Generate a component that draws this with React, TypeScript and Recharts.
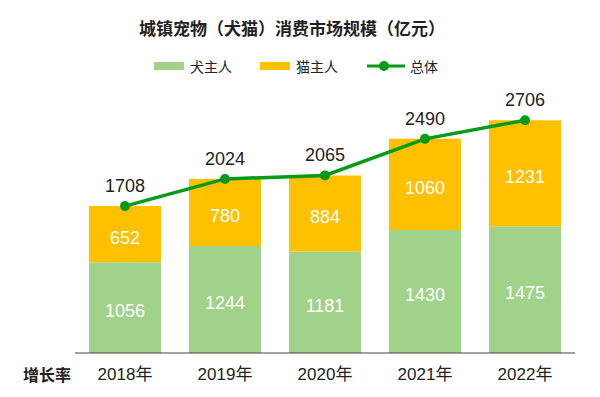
import { Bar, ComposedChart, LabelList, Line, XAxis, YAxis } from 'recharts';

const years = ['2018年', '2019年', '2020年', '2021年', '2022年'];
const dogOwners = [1056, 1244, 1181, 1430, 1475];
const catOwners = [652, 780, 884, 1060, 1231];
const totals = [1708, 2024, 2065, 2490, 2706];

const DOG = '#a0d28a';
const CAT = '#ffc000';
const TOTAL = '#079a17';
const FONT = '"Liberation Sans", "Noto Sans CJK SC", sans-serif';

const data = years.map((year, i) => ({
  year,
  dog: dogOwners[i],
  cat: catOwners[i],
  total: totals[i],
}));

// 段内数值：白色，居中略偏下，和原图一致
function SegmentLabel(props: any) {
  const { x, y, width, height, value } = props;
  return (
    <text
      x={x + width / 2}
      y={y + height / 2 + 5}
      textAnchor="middle"
      dominantBaseline="middle"
      fill="#fff"
      fontSize={18}
      fontFamily={FONT}
    >
      {value}
    </text>
  );
}

function TotalLabel(props: any) {
  const { x, y, value } = props;
  return (
    <text x={x} y={y - 19} textAnchor="middle" dominantBaseline="middle" fill="#222" fontSize={18} fontFamily={FONT}>
      {value}
    </text>
  );
}

function LegendBox() {
  const item = { display: 'flex', alignItems: 'center', position: 'absolute' as const, top: 56, fontSize: 14, color: '#222' };
  return (
    <>
      <div style={{ ...item, left: 154 }}>
        <span style={{ width: 30, height: 8, background: DOG, marginRight: 6 }} />
        犬主人
      </div>
      <div style={{ ...item, left: 260 }}>
        <span style={{ width: 30, height: 8, background: CAT, marginRight: 6 }} />
        猫主人
      </div>
      <div style={{ ...item, left: 367 }}>
        <svg width={38} height={14} style={{ marginRight: 5 }}>
          <line x1={0} y1={7} x2={38} y2={7} stroke={TOTAL} strokeWidth={3} />
          <circle cx={17} cy={7} r={5} fill={TOTAL} />
        </svg>
        总体
      </div>
    </>
  );
}

export default function App() {
  return (
    <div style={{ position: 'absolute', left: 0, top: 0, width: 600, height: 397, background: '#fff', fontFamily: FONT }}>
      <div
        style={{
          position: 'absolute',
          top: 15,
          left: 0,
          width: 584,
          textAlign: 'center',
          fontSize: 17,
          fontWeight: 'bold',
          color: '#222',
          textSpacingTrim: 'space-all',
        } as any}
      >
        城镇宠物（犬猫）消费市场规模（亿元）
      </div>
      <LegendBox />
      <div style={{ position: 'absolute', left: 23, top: 362, fontSize: 16, fontWeight: 'bold', color: '#222' }}>增长率</div>
      <ComposedChart
        width={600}
        height={397}
        data={data}
        margin={{ top: 95, right: 25, bottom: 14, left: 75 }}
        barCategoryGap={14}
      >
        <XAxis
          dataKey="year"
          tickLine={false}
          axisLine={{ stroke: '#444' }}
          height={30}
          tick={{ fill: '#222', fontSize: 17, fontFamily: FONT }}
          tickMargin={9}
        />
        <YAxis hide domain={[0, 3000]} />
        <Bar dataKey="dog" stackId="a" fill={DOG} isAnimationActive={false}>
          <LabelList dataKey="dog" content={SegmentLabel} />
        </Bar>
        <Bar dataKey="cat" stackId="a" fill={CAT} isAnimationActive={false}>
          <LabelList dataKey="cat" content={SegmentLabel} />
        </Bar>
        <Line
          dataKey="total"
          stroke={TOTAL}
          strokeWidth={3.5}
          dot={{ r: 5, fill: TOTAL, stroke: TOTAL, strokeWidth: 0 }}
          isAnimationActive={false}
        >
          <LabelList dataKey="total" content={TotalLabel} />
        </Line>
      </ComposedChart>
    </div>
  );
}
